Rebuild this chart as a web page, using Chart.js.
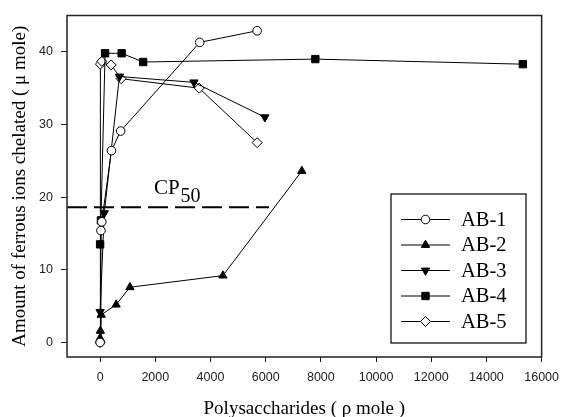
<!DOCTYPE html>
<html>
<head>
<meta charset="utf-8">
<script src="https://cdn.jsdelivr.net/npm/chart.js@4/dist/chart.umd.min.js"></script>
<style>
  html, body { margin:0; padding:0; background:#fff; }
  #wrap { width:567px; height:417px; }
</style>
</head>
<body>
<div id="wrap"><canvas id="c" width="567" height="417"></canvas></div>
<script>
// values (x: polysaccharides, y: ferrous ions chelated)
const seriesNames = ['AB-1', 'AB-2', 'AB-3', 'AB-4', 'AB-5'];
const ab1X = [0, 30, 60, 410, 745, 3610, 5690];
const ab1Y = [0, 15.4, 16.6, 26.4, 29.1, 41.3, 42.9];
const ab2X = [0, 10, 40, 580, 1080, 4450, 7310];
const ab2Y = [0.6, 1.6, 3.8, 5.2, 7.6, 9.2, 23.6];
const ab3X = [0, 150, 700, 3400, 5970];
const ab3Y = [4.2, 17.8, 36.6, 35.8, 31.0];
const ab4X = [0, 30, 180, 780, 1560, 7800, 15320];
const ab4Y = [13.5, 16.8, 39.8, 39.8, 38.6, 39.0, 38.3];
const ab5X = [0, 10, 60, 400, 760, 3590, 5690];
const ab5Y = [0, 38.3, 38.7, 38.2, 36.3, 35.0, 27.5];

// CP50 reference line
const cpLabel = 'CP';
const cpSub = '50';
const cpY = 18.6;
const cpX = [-1200, 6120];

const xTicks = [0, 2000, 4000, 6000, 8000, 10000, 12000, 14000, 16000];
const yTicks = [0, 10, 20, 30, 40];

const pts = (xs, ys) => xs.map((x, i) => ({ x, y: ys[i] }));

const styles = [
  { pointStyle: 'circle',   rot: 0,   r: 4.3, fill: '#fff' },
  { pointStyle: 'triangle', rot: 0,   r: 4.8, fill: '#000' },
  { pointStyle: 'triangle', rot: 180, r: 4.8, fill: '#000' },
  { pointStyle: 'rect',     rot: 0,   r: 5.2, fill: '#000' },
  { pointStyle: 'rectRot',  rot: 0,   r: 5.0, fill: '#fff' }
];
const seriesData = [pts(ab1X, ab1Y), pts(ab2X, ab2Y), pts(ab3X, ab3Y), pts(ab4X, ab4Y), pts(ab5X, ab5Y)];

const datasets = seriesNames.map((name, i) => ({
  label: name,
  data: seriesData[i],
  showLine: true,
  borderColor: '#000',
  borderWidth: 1,
  backgroundColor: styles[i].fill,
  pointStyle: styles[i].pointStyle,
  pointRotation: styles[i].rot,
  pointRadius: styles[i].r,
  pointBorderWidth: 1,
  pointBorderColor: '#000',
  pointBackgroundColor: styles[i].fill
}));

datasets.push({
  label: 'cp50',
  data: pts(cpX, [cpY, cpY]),
  showLine: true,
  borderColor: '#000',
  borderWidth: 2,
  borderDash: [20, 7],
  pointRadius: 0
});

// plot frame + CP50 text + boxed legend
const decorPlugin = {
  id: 'decor',
  afterDraw(chart) {
    const { ctx, chartArea: a, scales } = chart;
    ctx.save();
    ctx.strokeStyle = '#222';
    ctx.lineWidth = 1.5;
    ctx.strokeRect(a.left, a.top, a.right - a.left, a.bottom - a.top);

    // CP50 label
    ctx.fillStyle = '#000';
    ctx.textBaseline = 'alphabetic';
    ctx.font = '21px "Liberation Serif"';
    const tx = scales.x.getPixelForValue(1950);
    const ty = scales.y.getPixelForValue(cpY) - 13;
    ctx.fillText(cpLabel, tx, ty);
    const w = ctx.measureText(cpLabel).width;
    ctx.font = '20px "Liberation Serif"';
    ctx.fillText(cpSub, tx + w + 1, ty + 8);

    // legend
    const bx = 391, by = 194, bw = 135, bh = 149;
    ctx.fillStyle = '#fff';
    ctx.fillRect(bx, by, bw, bh);
    ctx.strokeStyle = '#000';
    ctx.lineWidth = 1.2;
    ctx.strokeRect(bx, by, bw, bh);
    ctx.font = '20.5px "Liberation Serif"';
    ctx.textBaseline = 'middle';
    seriesNames.forEach((name, i) => {
      const y = 219.5 + i * 25.5;
      ctx.strokeStyle = '#000';
      ctx.lineWidth = 1;
      ctx.beginPath();
      ctx.moveTo(401, y);
      ctx.lineTo(450, y);
      ctx.stroke();
      ctx.fillStyle = styles[i].fill;
      ctx.strokeStyle = '#000';
      Chart.helpers.drawPoint(ctx, {
        pointStyle: styles[i].pointStyle,
        rotation: styles[i].rot,
        radius: styles[i].r,
        borderWidth: 1
      }, 425.5, y);
      ctx.fillStyle = '#000';
      ctx.fillText(name, 461, y + 1);
    });
    ctx.restore();
  }
};

new Chart(document.getElementById('c'), {
  type: 'scatter',
  data: { datasets },
  options: {
    responsive: false,
    animation: false,
    layout: { padding: { top: 13, right: 21, left: 0, bottom: 0 } },
    plugins: { legend: { display: false }, tooltip: { enabled: false } },
    scales: {
      x: {
        type: 'linear',
        min: -1200, max: 16000,
        afterBuildTicks: s => { s.ticks = xTicks.map(v => ({ value: v })); },
        afterFit: s => { s.height = 60; },
        border: { display: false },
        grid: { drawOnChartArea: false, drawTicks: true, tickLength: 5, color: '#222' },
        ticks: { color: '#222', padding: 8, maxRotation: 0, autoSkip: false,
                 callback: v => String(v),
                 font: { family: '"Liberation Sans"', size: 12.5 } },
        title: { display: true, text: 'Polysaccharides ( ρ mole )', color: '#000',
                 padding: { top: 0, bottom: -2 },
                 font: { family: '"Liberation Serif"', size: 19, lineHeight: 1 } }
      },
      y: {
        type: 'linear',
        min: -2, max: 45,
        afterBuildTicks: s => { s.ticks = yTicks.map(v => ({ value: v })); },
        afterFit: s => { s.width = 67; },
        border: { display: false },
        grid: { drawOnChartArea: false, drawTicks: true, tickLength: 6, color: '#222' },
        ticks: { color: '#222', padding: 8,
                 callback: v => String(v),
                 font: { family: '"Liberation Sans"', size: 12.5 } },
        title: { display: true, text: 'Amount of ferrous ions chelated ( μ mole)', color: '#000',
                 padding: { top: 11, bottom: 0 },
                 font: { family: '"Liberation Serif"', size: 19, lineHeight: 1 } }
      }
    }
  },
  plugins: [decorPlugin]
});
</script>
</body>
</html>
